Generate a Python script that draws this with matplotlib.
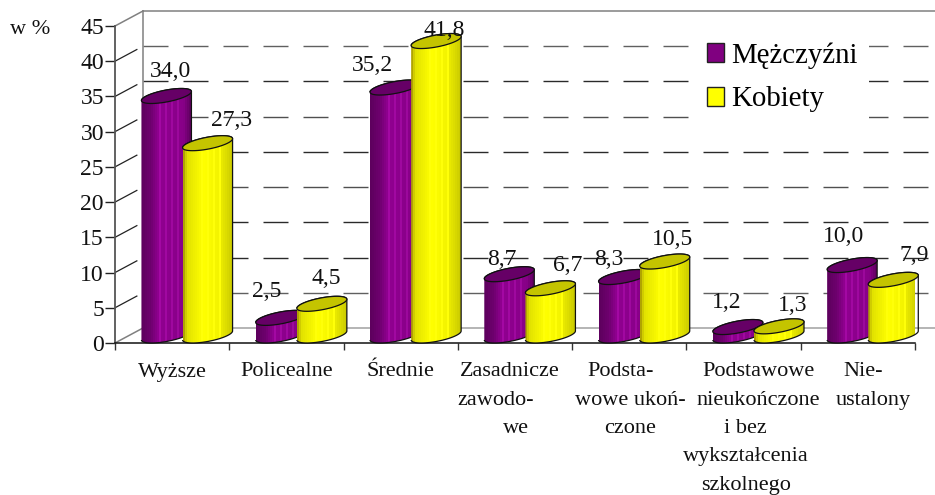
import matplotlib
matplotlib.use("Agg")
import matplotlib.pyplot as plt
import numpy as np
from matplotlib.patches import PathPatch, Rectangle
from matplotlib.path import Path

plt.rcParams["font.family"] = ["Liberation Serif", "DejaVu Serif"]

# Data
categories = [
    "Wyższe",
    "Policealne",
    "Średnie",
    "Zasadnicze\nzawodo-\nwe",
    "Podsta-\nwowe ukoń-\nczone",
    "Podstawowe\nnieukończone\ni bez\nwykształcenia\nszkolnego",
    "Nie-\nustalony",
]
men = [34.0, 2.5, 35.2, 8.7, 8.3, 1.2, 10.0]
women = [27.3, 4.5, 41.8, 6.7, 10.5, 1.3, 7.9]
y_ticks = list(range(0, 50, 5))

# label nudges from the top of each cylinder, in pixels
men_nudge = [(4, 24), (-14, 26), (-23, 22), (-7, 15), (-15, 18), (-11, 25), (-9, 29)]
women_nudge = [(24, 23), (4, 25), (8, 11), (17, 23), (8, 22), (14, 21), (21, 24)]
# horizontal shift of each category line, in pixels
line_shift = [[0], [0], [0], [-5, -19, 1], [-9, 1, 1], [15, 15, 2, 2, 2], [5, 15]]
grid_colors = ["#a0a0a0", "#606060", "#2a2a2a", "#2a2a2a", "#505050", "#2a2a2a", "#505050", "#2a2a2a", "#606060", "#808080"]

W, H = 935, 495
fig = plt.figure(figsize=(W / 100, H / 100), dpi=100)
ax = fig.add_axes([115 / W, 1 - 343 / H, 800 / W, 317 / H])
ax.set_xlim(0, 7)
ax.set_ylim(0, 45)

# pixel sizes in data units
ux = 7 / 800
uy = 45 / 317
depth_x, depth_y = 28 * ux, 15 * uy

# back wall
grid_right = (935 - 115) * ux
for v, col in zip(y_ticks, grid_colors):
    top = v + depth_y
    if v in (0, 45):
        ax.plot([depth_x, grid_right], [top, top], color=col, lw=1.1, clip_on=False, zorder=1)
        ax.plot([0, depth_x], [v, top], color="#808080", lw=1.1, clip_on=False, zorder=1)
    else:
        ax.plot([depth_x, grid_right], [top, top], color=col, lw=1.0, clip_on=False,
                dashes=(18, 10.8), zorder=1)
        ax.plot([0, depth_x * 0.78], [v, v + depth_y * 0.78], color="#222222", lw=0.9, zorder=1)
ax.plot([depth_x, depth_x], [depth_y, 45 + depth_y], color="#808080", lw=1.1, clip_on=False, zorder=1)

purple_stops = ([0, 0.2, 0.35, 0.85, 1], ["#5c005c", "#6e006e", "#900090", "#880088", "#5c005c"])
yellow_stops = ([0, 0.08, 0.4, 0.7, 1], ["#a09000", "#e0e000", "#ffff00", "#f4f400", "#c8c800"])


def hex_rgb(c):
    return [int(c[i:i + 2], 16) / 255 for i in (1, 3, 5)]


def cylinder(center, value, stops, top_color, z):
    a, k, b = 25.0, 0.18, 6.0
    base = 7.5 * uy
    top = base + value
    t = np.linspace(0, 2 * np.pi, 80)
    ex = a * np.cos(t) * ux
    ey = (k * a * np.cos(t) + b * np.sin(t)) * uy
    # lower half of the ellipse along the base, upper half along the top
    t2 = np.linspace(np.pi, 2 * np.pi, 40)
    t3 = np.linspace(0, np.pi, 40)
    xs = np.r_[center + a * np.cos(t2) * ux, center + a * np.cos(t3) * ux]
    ys = np.r_[base + (k * a * np.cos(t2) + b * np.sin(t2)) * uy,
               top + (k * a * np.cos(t3) + b * np.sin(t3)) * uy]
    outline = Path(np.c_[xs, ys], closed=False)
    clip = PathPatch(outline, transform=ax.transData, fc="none", ec="none")
    ax.add_patch(clip)
    pos, cols = stops
    rgb = np.array([hex_rgb(c) for c in cols])
    n = 25
    w = 2 * a * ux / n
    for i in range(n):
        f = (i + 0.5) / n
        col = [np.interp(f, pos, rgb[:, j]) for j in range(3)]
        if i % 3 == 0 and 0.3 < f < 0.85:
            col = [min(1, c * 1.08 + 0.03) for c in col]
        bars = ax.bar(center - a * ux + (i + 0.5) * w, value + 2 * depth_y, width=w * 1.05, bottom=0,
                      color=col, lw=0, zorder=z)
        bars[0].set_clip_path(clip)
    ax.add_patch(PathPatch(outline, fc="none", ec="#111111", lw=0.9, zorder=z + 0.1, clip_on=False))
    ax.fill(center + ex, top + ey, fc=top_color, ec="#111111", lw=0.9, zorder=z + 0.2, clip_on=False)
    return center, top


for i, cat in enumerate(categories):
    c1, t1 = cylinder(i + 0.45, men[i], purple_stops, "#660066", 3 + i)
    c2, t2 = cylinder(i + 0.81, women[i], yellow_stops, "#c4c400", 3.5 + i)
    ax.annotate("{:.1f}".format(men[i]).replace(".", ","), xy=(c1, t1),
                xytext=(men_nudge[i][0] * 0.72, men_nudge[i][1] * 0.72), textcoords="offset points",
                ha="center", va="center", fontsize=17, color="#111111", zorder=30, annotation_clip=False)
    ax.annotate("{:.1f}".format(women[i]).replace(".", ","), xy=(c2, t2),
                xytext=(women_nudge[i][0] * 0.72, women_nudge[i][1] * 0.72), textcoords="offset points",
                ha="center", va="center", fontsize=17, color="#111111", zorder=30, annotation_clip=False)

# axes
ax.patch.set_visible(False)
for s in ("top", "right"):
    ax.spines[s].set_visible(False)
ax.spines["left"].set_color("#555555")
ax.spines["left"].set_linewidth(1.3)
ax.spines["bottom"].set_color("#111111")
ax.spines["bottom"].set_linewidth(1.1)
ax.set_yticks(y_ticks)
ax.tick_params(axis="y", length=7, width=1, color="#222222", labelsize=17, pad=1, labelcolor="#111111")
ax.set_xticks(range(8))
ax.set_xticklabels([])
ax.tick_params(axis="x", which="major", length=5, width=1, color="#333333")

# category labels, line by line since the lines are not centred on each other
for i, cat in enumerate(categories):
    for n, line in enumerate(cat.split("\n")):
        ax.annotate(line, xy=(i + 0.5, 0), xytext=(line_shift[i][n] * 0.72, -(33.5 + 28.3 * n) * 0.72),
                    textcoords="offset points", ha="center", va="baseline", fontsize=16,
                    color="#111111", annotation_clip=False)

fig.text(30 / W, 1 - 29 / H, "w %", fontsize=16, ha="center", va="center", color="#111111")

handles = [Rectangle((0, 0), 1, 1, fc="#800080", ec="#222222", lw=1),
           Rectangle((0, 0), 1, 1, fc="#ffff00", ec="#222222", lw=1)]
leg = ax.legend(handles, ["Mężczyźni", "Kobiety"], loc="upper left", bbox_to_anchor=(695 / W, 1 - 30.5 / H),
                bbox_transform=fig.transFigure, fontsize=20.8, frameon=True, fancybox=False, framealpha=1,
                edgecolor="none", facecolor="white", handlelength=0.62, handleheight=0.62,
                handletextpad=0.24, labelspacing=0.62, borderaxespad=0, borderpad=0.4)
leg.set_zorder(2)

fig.savefig("out.png", dpi=100)
